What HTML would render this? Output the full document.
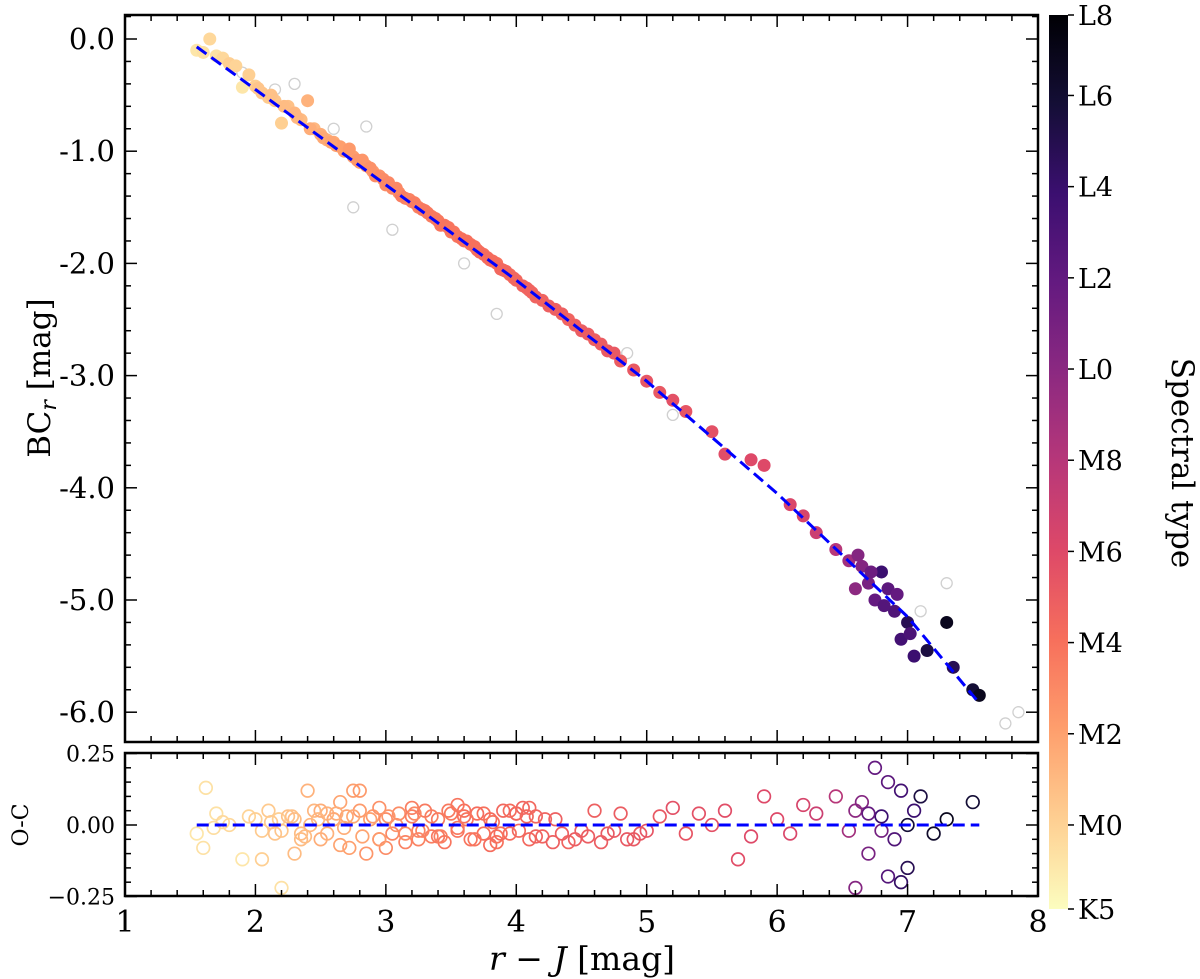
<!DOCTYPE html>
<html><head><meta charset="utf-8"><style>
body{margin:0;background:#fff}
svg{display:block;font-family:"DejaVu Serif","Liberation Serif",serif}
</style></head><body>
<svg id="chart" width="1200" height="979" viewBox="0 0 1200 979" xmlns="http://www.w3.org/2000/svg">
<defs><linearGradient id="magma" x1="0" y1="1" x2="0" y2="0">
<stop offset="0" stop-color="#fcfdbf"/><stop offset="0.1" stop-color="#fecf92"/><stop offset="0.2" stop-color="#fe9f6d"/><stop offset="0.3" stop-color="#f7705c"/><stop offset="0.4" stop-color="#de4968"/><stop offset="0.5" stop-color="#b73779"/><stop offset="0.6" stop-color="#8c2981"/><stop offset="0.7" stop-color="#641a80"/><stop offset="0.8" stop-color="#3b0f70"/><stop offset="0.9" stop-color="#140e36"/><stop offset="1" stop-color="#000004"/></linearGradient></defs>
<g id="marks"></g>
<g id="axes"></g>
</svg>
<script>
// ---- data ----
const mainX=[1.55,1.6,1.65,1.7,1.75,1.8,1.85,1.9,1.95,2.0,2.05,2.1,2.15,2.2,2.25,2.3,2.35,2.4,2.45,2.5,2.55,2.6,2.65,2.7,2.75,2.8,2.85,2.9,2.95,3.0,3.05,3.1,3.15,3.2,3.25,3.3,3.35,3.4,3.45,3.5,3.55,3.6,3.65,3.7,3.75,3.8,3.85,3.9,3.95,4.0,4.05,4.1,4.2,4.3,4.4,4.5,4.6,4.7,4.8,4.9,5.0,5.1,5.2,5.3,5.5,5.6,5.8,5.9,6.1,6.2,6.3,6.45,6.55,6.6,6.65,6.7,6.75,6.8,6.85,6.9,6.95,7.0,7.05,7.15,7.3,7.35,7.5,7.55,2.62,2.78,2.92,3.12,3.28,3.42,3.58,3.72,3.88,4.15,4.35,4.55,6.62,6.72,6.82,6.92,7.02,
2.02,2.12,2.22,2.32,2.42,2.52,2.58,2.68,2.72,2.82,2.88,2.98,3.02,3.08,3.18,3.22,3.32,3.38,3.48,3.52,3.62,3.68,3.78,3.82,3.92,3.98,4.08,4.12,4.25,4.45,4.65,4.75];
const mainY=[-0.10,-0.12,0.0,-0.15,-0.17,-0.22,-0.24,-0.43,-0.32,-0.42,-0.48,-0.52,-0.55,-0.75,-0.6,-0.66,-0.72,-0.55,-0.8,-0.85,-0.9,-0.92,-0.96,-1.0,-1.05,-1.1,-1.13,-1.18,-1.22,-1.3,-1.33,-1.37,-1.42,-1.45,-1.5,-1.53,-1.58,-1.62,-1.66,-1.72,-1.76,-1.8,-1.83,-1.88,-1.92,-1.97,-2.0,-2.06,-2.1,-2.15,-2.2,-2.24,-2.33,-2.41,-2.5,-2.6,-2.68,-2.78,-2.87,-2.95,-3.05,-3.15,-3.22,-3.32,-3.5,-3.7,-3.75,-3.8,-4.15,-4.25,-4.4,-4.55,-4.65,-4.9,-4.7,-4.85,-5.0,-4.75,-4.9,-5.1,-5.35,-5.2,-5.5,-5.45,-5.2,-5.6,-5.8,-5.85,-0.95,-1.08,-1.22,-1.4,-1.52,-1.66,-1.78,-1.9,-2.05,-2.3,-2.45,-2.63,-4.6,-4.75,-5.05,-4.95,-5.3,
-0.44,-0.5,-0.6,-0.7,-0.8,-0.88,-0.92,-1.0,-0.98,-1.08,-1.15,-1.25,-1.28,-1.33,-1.43,-1.46,-1.55,-1.6,-1.68,-1.72,-1.8,-1.85,-1.95,-1.98,-2.07,-2.13,-2.22,-2.26,-2.38,-2.55,-2.72,-2.8];
const mainC=[.05,.06,.08,.06,.08,.1,.09,.05,.1,.1,.12,.11,.12,.1,.13,.15,.14,.16,.15,.17,.16,.18,.2,.19,.2,.21,.22,.21,.23,.24,.25,.24,.26,.27,.26,.28,.27,.28,.29,.28,.29,.3,.29,.31,.3,.31,.3,.32,.31,.32,.33,.32,.33,.34,.33,.35,.34,.36,.35,.36,.37,.36,.38,.37,.38,.39,.4,.4,.41,.42,.45,.5,.55,.6,.62,.65,.7,.8,.72,.75,.78,.85,.8,.88,.95,.85,.9,.95,.2,.22,.24,.27,.28,.29,.3,.31,.32,.33,.34,.35,.62,.68,.74,.7,.76,
.12,.13,.14,.15,.17,.18,.19,.2,.21,.22,.23,.24,.25,.25,.26,.27,.28,.28,.29,.29,.3,.3,.31,.31,.32,.32,.33,.33,.34,.34,.35,.36];
const greyX=[1.9,2.15,2.6,2.75,3.05,3.6,3.85,4.85,5.2,7.3,7.1,7.75,7.85,2.3,2.85];
const greyY=[-0.3,-0.45,-0.8,-1.5,-1.7,-2.0,-2.45,-2.8,-3.35,-4.85,-5.1,-6.1,-6.0,-0.4,-0.78];
const resX=[1.55,1.6,1.62,1.68,1.7,1.75,1.8,1.9,1.95,2.0,2.05,2.1,2.15,2.18,2.2,2.25,2.3,2.35,2.4,2.42,2.45,2.5,2.55,2.6,2.65,2.7,2.72,2.75,2.8,2.85,2.9,2.95,3.0,3.05,3.1,3.15,3.2,3.25,3.3,3.35,3.4,3.45,3.5,3.55,3.6,3.65,3.7,3.75,3.8,3.85,3.9,3.95,4.0,4.05,4.1,4.15,4.2,4.3,4.4,4.5,4.6,4.7,4.8,4.9,5.0,5.1,5.2,5.3,5.4,5.5,5.6,5.7,5.8,5.9,6.0,6.1,6.2,6.3,6.45,6.55,6.6,6.65,6.7,6.75,6.8,6.85,6.9,6.95,7.0,7.05,7.1,7.2,7.3,7.5,2.3,2.5,2.6,2.8,3.0,3.2,3.4,3.6,3.8,4.0,2.35,2.65,2.95,3.25,3.55,3.85,4.1,6.7,6.85,6.95,6.6,6.8,7.0,
2.05,2.12,2.2,2.28,2.38,2.48,2.55,2.62,2.68,2.75,2.82,2.88,2.95,3.02,3.08,3.15,3.22,3.28,3.35,3.42,3.48,3.55,3.62,3.68,3.75,3.82,3.88,3.95,4.02,4.08,4.15,4.22,4.28,4.35,4.45,4.55,4.65,4.75,4.85,4.95];
const resY=[-0.03,-0.08,0.13,-0.01,0.04,0.01,0.0,-0.12,0.03,0.02,-0.02,0.05,-0.03,0.02,-0.22,0.03,0.02,-0.03,0.12,0.0,0.05,-0.05,0.04,0.02,0.08,0.03,-0.08,0.12,0.05,-0.1,0.03,-0.05,0.02,-0.03,0.04,-0.06,0.03,-0.02,0.05,-0.04,0.02,-0.06,0.04,-0.02,0.03,-0.05,0.04,-0.03,0.02,-0.06,0.05,-0.03,0.04,0.06,-0.05,0.03,-0.04,0.02,-0.06,-0.02,0.05,-0.03,0.04,-0.05,-0.02,0.03,0.06,-0.03,0.04,0.0,0.05,-0.12,-0.04,0.1,0.02,-0.03,0.07,0.04,0.1,-0.02,0.05,0.08,-0.1,0.2,0.03,0.15,-0.05,0.12,-0.15,0.05,0.1,-0.03,0.02,0.08,-0.1,0.05,0.02,0.12,-0.08,0.06,-0.04,0.05,-0.07,0.04,-0.05,-0.07,0.06,-0.05,0.07,-0.04,0.06,0.04,-0.18,-0.2,-0.22,-0.02,0.0,-0.12,
0.01,-0.02,0.03,-0.04,0.02,-0.03,0.04,-0.01,0.03,-0.04,0.02,-0.05,0.03,0.0,-0.03,0.04,-0.02,0.03,-0.04,0.05,-0.01,0.02,-0.05,0.04,0.01,-0.03,0.05,-0.02,0.03,-0.04,0.02,-0.06,-0.03,-0.05,-0.04,-0.06,-0.02,-0.05,-0.03,-0.06];
const resC=[.05,.06,.06,.07,.06,.08,.08,.05,.09,.1,.11,.11,.12,.1,.06,.13,.14,.14,.16,.15,.15,.17,.16,.18,.19,.19,.2,.2,.21,.22,.21,.23,.24,.25,.24,.26,.27,.26,.28,.27,.28,.29,.28,.29,.3,.29,.31,.3,.31,.3,.32,.31,.32,.33,.32,.33,.33,.34,.33,.35,.34,.36,.35,.36,.37,.36,.38,.37,.38,.38,.39,.39,.4,.4,.4,.41,.42,.45,.5,.55,.6,.62,.65,.7,.8,.72,.75,.78,.85,.8,.88,.92,.95,.9,.14,.17,.18,.21,.24,.27,.28,.3,.31,.32,.14,.19,.23,.26,.29,.3,.32,.7,.74,.82,.62,.66,.9,
.1,.11,.12,.13,.14,.15,.16,.17,.17,.18,.19,.2,.21,.22,.23,.24,.25,.26,.27,.27,.28,.28,.29,.29,.3,.3,.31,.31,.32,.32,.33,.33,.34,.34,.35,.35,.35,.36,.36,.36];
const fitX=[1.55,2,3,4,5,6,7,7.55];
const fitY=[-0.07,-0.45,-1.3,-2.15,-3.05,-4.05,-5.15,-5.92];
const xTicks=[1,2,3,4,5,6,7,8];
const yTicks=[0,-1,-2,-3,-4,-5,-6];
const yLabels=["0.0","-1.0","-2.0","-3.0","-4.0","-5.0","-6.0"];
const rTicks=[0.25,0,-0.25];
const rLabels=["0.25","0.00","\u22120.25"];
const cbLabels=["K5","M0","M2","M4","M6","M8","L0","L2","L4","L6","L8"];
const cbVals=[0,0.094,0.196,0.298,0.4,0.502,0.604,0.706,0.808,0.91,1];

// ---- scales ----
const L=125,R=1038,T=15,B=742,BT=753,BB=896;
const X=v=>L+(v-1)*(R-L)/7;
const Y=v=>39-v*112.2;
const Yr=v=>825-v*286;
const CBT=15,CBB=909,CBL=1049,CBR=1068;
const CB=v=>CBB-v*(CBB-CBT);
const stops=["#fcfdbf","#fecf92","#fe9f6d","#f7705c","#de4968","#b73779","#8c2981","#641a80","#3b0f70","#140e36","#000004"];
function col(t){t=Math.max(0,Math.min(1,t))*10;const i=Math.min(9,Math.floor(t)),f=t-i;
const a=stops[i],b=stops[i+1];const p=(s,k)=>parseInt(s.substr(1+2*k,2),16);
let o="rgb(";for(let k=0;k<3;k++){o+=Math.round(p(a,k)+(p(b,k)-p(a,k))*f)+(k<2?",":")");}return o;}
const NS="http://www.w3.org/2000/svg";
function el(tag,attrs,parent){const e=document.createElementNS(NS,tag);for(const k in attrs)e.setAttribute(k,attrs[k]);parent.appendChild(e);return e;}
const marks=document.getElementById('marks'),axes=document.getElementById('axes');

greyX.forEach((x,i)=>{const c=el('circle',{cx:X(x),cy:Y(greyY[i]),r:5.5,fill:'none',stroke:'#d0d0d0','stroke-width':1.3},marks);

});
mainX.forEach((x,i)=>{const c=el('circle',{cx:X(x),cy:Y(mainY[i]),r:6.5,fill:col(mainC[i])},marks);

});
let d='';fitX.forEach((x,i)=>{d+=(i?'L':'M')+X(x)+','+Y(fitY[i]);});
const fl=el('path',{d:d,fill:'none',stroke:'#0000ff','stroke-width':3,'stroke-dasharray':'12,6'},marks);


resX.forEach((x,i)=>{const c=el('circle',{cx:X(x),cy:Yr(resY[i]),r:6.3,fill:'none',stroke:col(resC[i]),'stroke-width':1.7},marks);

});
const zl=el('line',{x1:X(1.55),x2:X(7.55),y1:Yr(0),y2:Yr(0),stroke:'#0000ff','stroke-width':3,'stroke-dasharray':'12,6'},marks);



const f1=el('rect',{x:L,y:T,width:R-L,height:B-T,fill:'none',stroke:'#000','stroke-width':2.5},axes);


const f2=el('rect',{x:L,y:BT,width:R-L,height:BB-BT,fill:'none',stroke:'#000','stroke-width':2.5},axes);


function tk(x1,y1,x2,y2){el('line',{x1:x1,y1:y1,x2:x2,y2:y2,stroke:'#000','stroke-width':1.5},axes);}
for(let v=1;v<=8.001;v+=0.2){const px=X(v);const maj=Math.abs(v-Math.round(v))<1e-6;const len=maj?12:6;
tk(px,B,px,B-len);tk(px,T,px,T+len);tk(px,BB,px,BB-len);tk(px,BT,px,BT+len);}
xTicks.forEach(v=>{const t=el('text',{x:X(v),y:BB+36,'font-size':30,'text-anchor':'middle'},axes);t.textContent=v;

});
for(let v=0.2;v>=-6.2;v-=0.2){const py=Y(v);if(py<T||py>B)continue;const maj=Math.abs(v-Math.round(v))<1e-6;const len=maj?12:6;
tk(L,py,L+len,py);tk(R,py,R-len,py);}
yTicks.forEach((v,i)=>{const t=el('text',{x:L-10,y:Y(v)+10,'font-size':29,'text-anchor':'end'},axes);t.textContent=yLabels[i];

});
for(let v=0.25;v>=-0.251;v-=0.05){const py=Yr(v);const maj=Math.abs(v*4-Math.round(v*4))<1e-6;const len=maj?12:6;tk(L,py,L+len,py);tk(R,py,R-len,py);}
rTicks.forEach((v,i)=>{const t=el('text',{x:L-10,y:Yr(v)+8,'font-size':22,'text-anchor':'end'},axes);t.textContent=rLabels[i];

});
const cb=el('rect',{x:CBL,y:CBT,width:CBR-CBL,height:CBB-CBT,fill:'url(#magma)'},axes);


cbVals.forEach((v,i)=>{tk(CBR,CB(v),CBR+6,CB(v));const t=el('text',{x:CBR+10,y:CB(v)+10,'font-size':27},axes);t.textContent=cbLabels[i];

});
</script>
<svg style="position:absolute;left:0;top:0" width="1200" height="979">
<text x="0" y="0" transform="translate(50,378) rotate(-90)" font-family="DejaVu Serif,serif" font-size="31" text-anchor="middle">BC<tspan font-style="italic" font-size="22" dy="6">r</tspan><tspan dy="-6"> [mag]</tspan></text>
<text transform="translate(28,825) rotate(-90)" font-family="DejaVu Serif,serif" font-size="22" text-anchor="middle">O-C</text>
<text x="582" y="970" font-family="DejaVu Serif,serif" font-size="33" text-anchor="middle"><tspan font-style="italic">r</tspan> − <tspan font-style="italic">J</tspan> [mag]</text>
<text transform="translate(1172,463) rotate(90)" font-family="DejaVu Serif,serif" font-size="31" text-anchor="middle">Spectral type</text>
</svg>
</body></html>
